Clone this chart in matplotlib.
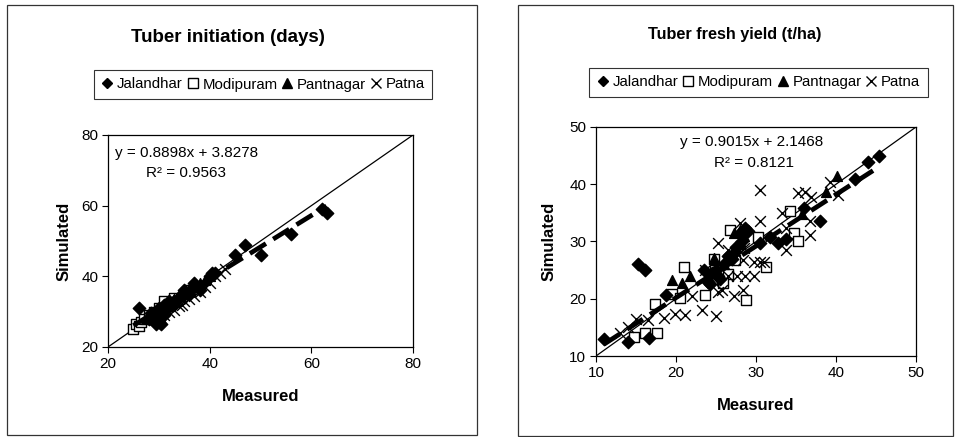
import matplotlib
matplotlib.use("Agg")
import matplotlib.pyplot as plt
import numpy as np
from matplotlib.patches import Rectangle
from matplotlib.lines import Line2D

plt.rcParams['font.family'] = ['Liberation Sans', 'DejaVu Sans']

# ---------------- Left panel: Tuber initiation (days) ----------------
ti_jal_x = [26, 28, 29, 29.5, 30, 30, 31, 31, 32, 33, 34, 34.5, 35, 36, 37, 37, 38, 40, 40.5, 41, 45, 47, 50, 56, 62, 63, 29.5, 30.5, 28.5, 32.5]
ti_jal_y = [31, 28, 27.5, 30, 27, 31, 29, 32, 33, 33, 34, 35, 36, 35, 37, 38, 36, 40, 41, 41, 46, 49, 46, 52, 59, 58, 26.5, 26.5, 29.5, 31.5]
ti_mod_x = [25, 25.5, 26, 26.5, 27, 28, 29, 30, 31, 33, 36]
ti_mod_y = [25, 26.5, 26, 27, 28, 29, 30, 31, 33, 34, 36]
ti_pan_x = [27.5, 28, 29, 30, 31, 32, 33, 34, 35, 36, 37, 38, 39, 40]
ti_pan_y = [28, 28.5, 29, 30.5, 31.5, 32, 33.5, 34.5, 35, 36.5, 37.5, 38, 39, 40]
ti_pat_x = [29, 30, 31, 32, 33, 34, 34.5, 35, 36, 37, 38, 39, 40, 41, 42, 43]
ti_pat_y = [28, 28.5, 29, 30, 30.5, 31.5, 32, 33, 33.5, 34.5, 35.5, 37, 38, 40, 41, 42]
ti_fit = (0.8898, 3.8278)
ti_fit_range = [25, 63]
ti_ticks = [20, 40, 60, 80]

# ---------------- Right panel: Tuber fresh yield (t/ha) ----------------
fy_jal_x = [11, 14, 15.2, 16.1, 16.6, 18.8, 24, 24.5, 25, 25.5, 26, 26.5, 27, 27.5, 28, 28.6, 29, 30.5, 31.8, 32.8, 33.8, 36, 38, 42.4, 44, 45.4, 23.5, 24.2, 25.2, 27.3, 28.2]
fy_jal_y = [13, 12.5, 26, 25, 13.2, 20.7, 23, 24.5, 25, 23.5, 26, 27.5, 27, 29, 31.5, 32.3, 31.8, 29.7, 30.8, 29.8, 30.4, 35.8, 33.5, 41, 43.8, 45, 25, 22.5, 24, 28, 30]
fy_mod_x = [14.8, 16.1, 17.6, 17.4, 19.5, 20.5, 21, 23.6, 24.7, 26.8, 28.8, 31.3, 34.3, 34.8, 35.2, 30.3, 25.7, 26.5, 27.4, 24.9, 25.9]
fy_mod_y = [13.4, 14, 14, 19, 20.8, 20.2, 25.6, 20.7, 27, 32, 19.8, 25.6, 35.4, 31.4, 30, 30.8, 23.3, 24.4, 26.8, 25, 22.7]
fy_pan_x = [19.5, 20.7, 21.8, 24, 25, 26, 27, 27.5, 28, 28.5, 27.2, 28, 24.7, 35.8, 38.8, 40.1, 26.5, 27.8]
fy_pan_y = [23.2, 22.8, 24, 24, 25, 26, 28, 29, 30, 31, 31.5, 32, 27.2, 34.8, 38.7, 41.4, 27, 29.5]
fy_pat_x = [13, 14, 15, 16.5, 18.5, 19.9, 21.1, 23.3, 25, 22, 25.3, 27.2, 28.4, 27.6, 28.6, 29.7, 26.5, 30.5, 31, 29.7, 28.4,
            25.3, 30.5, 30.5, 33.2, 33.8, 33.8, 35.3, 36.1, 36.9, 36.8, 36.7, 39.3, 40.3, 28, 28.5, 23.9, 23.6, 26.5, 25.7]
fy_pat_y = [14, 15, 16.5, 16.3, 16.6, 17.4, 17.1, 18, 17, 20.5, 21.2, 20.4, 21.5, 24, 24, 24, 24, 26.5, 26.5, 26.5, 26.8,
            29.7, 39, 33.5, 34.9, 28.5, 32.4, 38.4, 38.7, 37.8, 31.1, 33.5, 40.4, 38.2, 33.3, 28.8, 24.1, 25.1, 28.6, 21.5]
fy_fit = (0.9015, 2.1468)
fy_fit_range = [11, 45.4]
fy_ticks = [10, 20, 30, 40, 50]

series_names = ['Jalandhar', 'Modipuram', 'Pantnagar', 'Patna']

fig = plt.figure(figsize=(9.55, 4.37), dpi=100)

# panel frames
for (x0, y0, x1, y1) in [(7, 5, 477, 435), (518, 5, 953, 436)]:
    fig.patches.append(Rectangle((x0 / 955, 1 - y1 / 437), (x1 - x0) / 955, (y1 - y0) / 437,
                                 transform=fig.transFigure, fill=False, edgecolor='#333333', linewidth=0.9))

def draw_panel(ax, jal, mod, pan, pat, fit, fit_range, ticks, eq_pos, r2_pos, eq_ha, r2_txt, eq_txt, ylpad):
    lo, hi = ticks[0], ticks[-1]
    ax.plot([lo, hi], [lo, hi], color='black', linewidth=0.9, zorder=1)
    ax.scatter(jal[0], jal[1], marker='D', s=40, color='black', zorder=3)
    ax.scatter(mod[0], mod[1], marker='s', s=55, facecolors='white', edgecolors='black', linewidths=1.0, zorder=2)
    ax.scatter(pan[0], pan[1], marker='^', s=50, color='black', zorder=3)
    ax.scatter(pat[0], pat[1], marker='x', s=60, color='black', linewidths=1.0, zorder=3)
    fx = np.array(fit_range)
    ax.plot(fx, fit[0] * fx + fit[1], color='black', linewidth=3.4, dashes=(4, 1.8), zorder=4)
    ax.set_xlim(lo, hi)
    ax.set_ylim(lo, hi)
    ax.set_xticks(ticks)
    ax.set_yticks(ticks)
    ax.tick_params(direction='out', length=4, width=0.8, labelsize=11, pad=3)
    for s in ax.spines.values():
        s.set_linewidth(0.9)
    ax.set_xlabel('Measured', fontsize=12, fontweight='bold', labelpad=13)
    ax.set_ylabel('Simulated', fontsize=12, fontweight='bold', labelpad=ylpad)
    ax.text(eq_pos[0], eq_pos[1], eq_txt, fontsize=11, ha=eq_ha, va='center')
    ax.text(r2_pos[0], r2_pos[1], r2_txt, fontsize=11, ha='center', va='center')

def add_legend(cx, cy):
    handles = [
        Line2D([], [], marker='D', linestyle='', color='black', markersize=5),
        Line2D([], [], marker='s', linestyle='', markerfacecolor='white', markeredgecolor='black', markersize=7),
        Line2D([], [], marker='^', linestyle='', color='black', markersize=7),
        Line2D([], [], marker='x', linestyle='', color='black', markersize=7),
    ]
    leg = fig.legend(handles, series_names, loc='center', bbox_to_anchor=(cx, cy), ncol=4,
                     frameon=True, fancybox=False, edgecolor='black', fontsize=10.8,
                     handlelength=0.8, handletextpad=0.25, columnspacing=0.25, borderpad=0.5, borderaxespad=0)
    leg.get_frame().set_linewidth(0.8)

ax1 = fig.add_axes([108 / 955, 1 - 347 / 437, 305 / 955, 212 / 437])
draw_panel(ax1, (ti_jal_x, ti_jal_y), (ti_mod_x, ti_mod_y), (ti_pan_x, ti_pan_y), (ti_pat_x, ti_pat_y),
           ti_fit, ti_fit_range, ti_ticks, (21.4, 75), (35.4, 69.3), 'left', 'R² = 0.9563', 'y = 0.8898x + 3.8278', 7)
fig.text(228 / 955, 1 - 37 / 437, 'Tuber initiation (days)', fontsize=13.5, fontweight='bold', ha='center', va='center')
add_legend(263 / 955, 1 - 84.5 / 437)

ax2 = fig.add_axes([596 / 955, 1 - 356 / 437, 320 / 955, 229 / 437])
draw_panel(ax2, (fy_jal_x, fy_jal_y), (fy_mod_x, fy_mod_y), (fy_pan_x, fy_pan_y), (fy_pat_x, fy_pat_y),
           fy_fit, fy_fit_range, fy_ticks, (29.5, 47.4), (29.75, 43.7), 'center', 'R² = 0.8121', 'y = 0.9015x + 2.1468', 9)
fig.text(735 / 955, 1 - 34 / 437, 'Tuber fresh yield (t/ha)', fontsize=11.7, fontweight='bold', ha='center', va='center')
add_legend(758.5 / 955, 1 - 82 / 437)

fig.savefig('out.png', dpi=100, facecolor='white')
